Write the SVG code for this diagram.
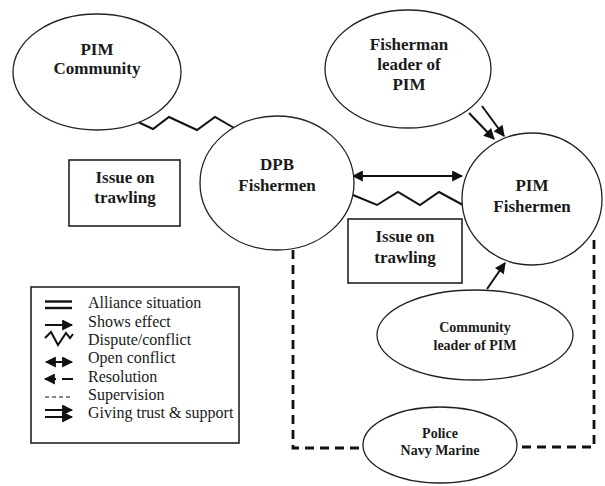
<svg xmlns="http://www.w3.org/2000/svg" width="605" height="486" viewBox="0 0 605 486">
  <defs>
    <style>
      .node { fill: #ffffff; stroke: #222; stroke-width: 1.3; }
      .box { fill: #ffffff; stroke: #222; stroke-width: 1.6; }
      .lbl { font-family: "Liberation Serif", "Times New Roman", serif; font-weight: bold; fill: #1a1a1a; text-anchor: middle; }
      .big { font-size: 17px; }
      .small { font-size: 14px; }
      .leg { font-family: "Liberation Serif", "Times New Roman", serif; font-size: 16px; fill: #1a1a1a; }
      .zig { fill: none; stroke: #111; stroke-width: 2; stroke-linejoin: miter; }
      .arrow { fill: none; stroke: #111; stroke-width: 2; }
      .dash { fill: none; stroke: #111; stroke-width: 2.8; stroke-dasharray: 9 6; }
      .thin { fill: none; stroke: #111; stroke-width: 1.2; stroke-dasharray: 4 3; }
    </style>
    <marker id="head" viewBox="0 0 10 10" refX="9" refY="5" markerWidth="6" markerHeight="5.5" orient="auto-start-reverse" markerUnits="strokeWidth">
      <path d="M0,0 L10,5 L0,10 z" fill="#111"/>
    </marker>
  </defs>

  <rect width="605" height="486" fill="#ffffff"/>

  <!-- connectors -->
  <g id="connectors">
    <!-- dispute: PIM Community to DPB Fishermen -->
    <polyline class="zig" points="138,122 153,129 169,117 197,130 215,117 236,129"/>
    <!-- open conflict: DPB Fishermen and PIM Fishermen -->
    <line class="arrow" x1="353" y1="176" x2="462" y2="176" marker-start="url(#head)" marker-end="url(#head)"/>
    <!-- dispute: DPB Fishermen and PIM Fishermen -->
    <polyline class="zig" points="353,195 377,205 398,192 420,205 439,192 463,205"/>
    <!-- giving trust and support -->
    <line class="arrow" x1="469" y1="113" x2="494" y2="139" marker-end="url(#head)"/>
    <line class="arrow" x1="482" y1="106" x2="504" y2="136" marker-end="url(#head)"/>
    <!-- shows effect: community leader to PIM Fishermen -->
    <line class="arrow" x1="487" y1="289" x2="505" y2="263" marker-end="url(#head)"/>
    <!-- resolution paths through Police / Navy Marine -->
    <polyline class="dash" points="293,250 293,448 363,448"/>
    <polyline class="dash" points="594,240 594,447 517,447"/>
  </g>

  <!-- nodes -->
  <g id="pim-community">
    <ellipse class="node" cx="97" cy="72" rx="84" ry="58"/>
    <text class="lbl big" x="97" y="55">PIM</text>
    <text class="lbl big" x="97" y="74">Community</text>
  </g>

  <g id="dpb-fishermen">
    <ellipse class="node" cx="277" cy="183" rx="77" ry="67"/>
    <text class="lbl big" x="277" y="170">DPB</text>
    <text class="lbl big" x="277" y="191">Fishermen</text>
  </g>

  <g id="fisherman-leader">
    <ellipse class="node" cx="408" cy="69" rx="83" ry="59"/>
    <text class="lbl big" x="409" y="50">Fisherman</text>
    <text class="lbl big" x="409" y="70">leader of</text>
    <text class="lbl big" x="409" y="90">PIM</text>
  </g>

  <g id="pim-fishermen">
    <ellipse class="node" cx="532" cy="199" rx="70" ry="66"/>
    <text class="lbl big" x="532" y="191">PIM</text>
    <text class="lbl big" x="532" y="212">Fishermen</text>
  </g>

  <g id="community-leader">
    <ellipse class="node" cx="475" cy="335" rx="98" ry="45"/>
    <text class="lbl small" x="475" y="332">Community</text>
    <text class="lbl small" x="475" y="350">leader of PIM</text>
  </g>

  <g id="police">
    <ellipse class="node" cx="440" cy="445" rx="77" ry="38"/>
    <text class="lbl small" x="440" y="438">Police</text>
    <text class="lbl small" x="440" y="455">Navy Marine</text>
  </g>

  <g id="issue-1">
    <rect class="box" x="69" y="160" width="111" height="66"/>
    <text class="lbl big" x="125" y="183">Issue on</text>
    <text class="lbl big" x="125" y="203">trawling</text>
  </g>

  <g id="issue-2">
    <rect class="box" x="348" y="219" width="114" height="64"/>
    <text class="lbl big" x="405" y="242">Issue on</text>
    <text class="lbl big" x="405" y="263">trawling</text>
  </g>

  <!-- legend -->
  <g id="legend">
    <rect class="box" x="31" y="287" width="208" height="156"/>
    <line x1="45" y1="301.5" x2="72" y2="301.5" stroke="#111" stroke-width="2.4"/>
    <line x1="45" y1="308" x2="72" y2="308" stroke="#111" stroke-width="2.4"/>
    <line class="arrow" x1="45" y1="325" x2="72" y2="325" marker-end="url(#head)"/>
    <polyline class="zig" points="45,338 51,332 58,345 66,333 70,338 73,334"/>
    <line class="arrow" x1="46" y1="362" x2="72" y2="362" marker-start="url(#head)" marker-end="url(#head)"/>
    <line class="arrow" x1="45" y1="379" x2="56" y2="379" marker-start="url(#head)"/>
    <line class="arrow" x1="62" y1="379" x2="73" y2="379"/>
    <line class="thin" x1="45" y1="397" x2="73" y2="397"/>
    <line class="arrow" x1="45" y1="410" x2="72" y2="410" marker-end="url(#head)"/>
    <line class="arrow" x1="45" y1="417" x2="72" y2="417" marker-end="url(#head)"/>
    <text class="leg" x="88" y="308">Alliance situation</text>
    <text class="leg" x="88" y="327">Shows effect</text>
    <text class="leg" x="88" y="345">Dispute/conflict</text>
    <text class="leg" x="88" y="363">Open conflict</text>
    <text class="leg" x="88" y="382">Resolution</text>
    <text class="leg" x="88" y="400">Supervision</text>
    <text class="leg" x="88" y="418">Giving trust &amp; support</text>
  </g>
</svg>
